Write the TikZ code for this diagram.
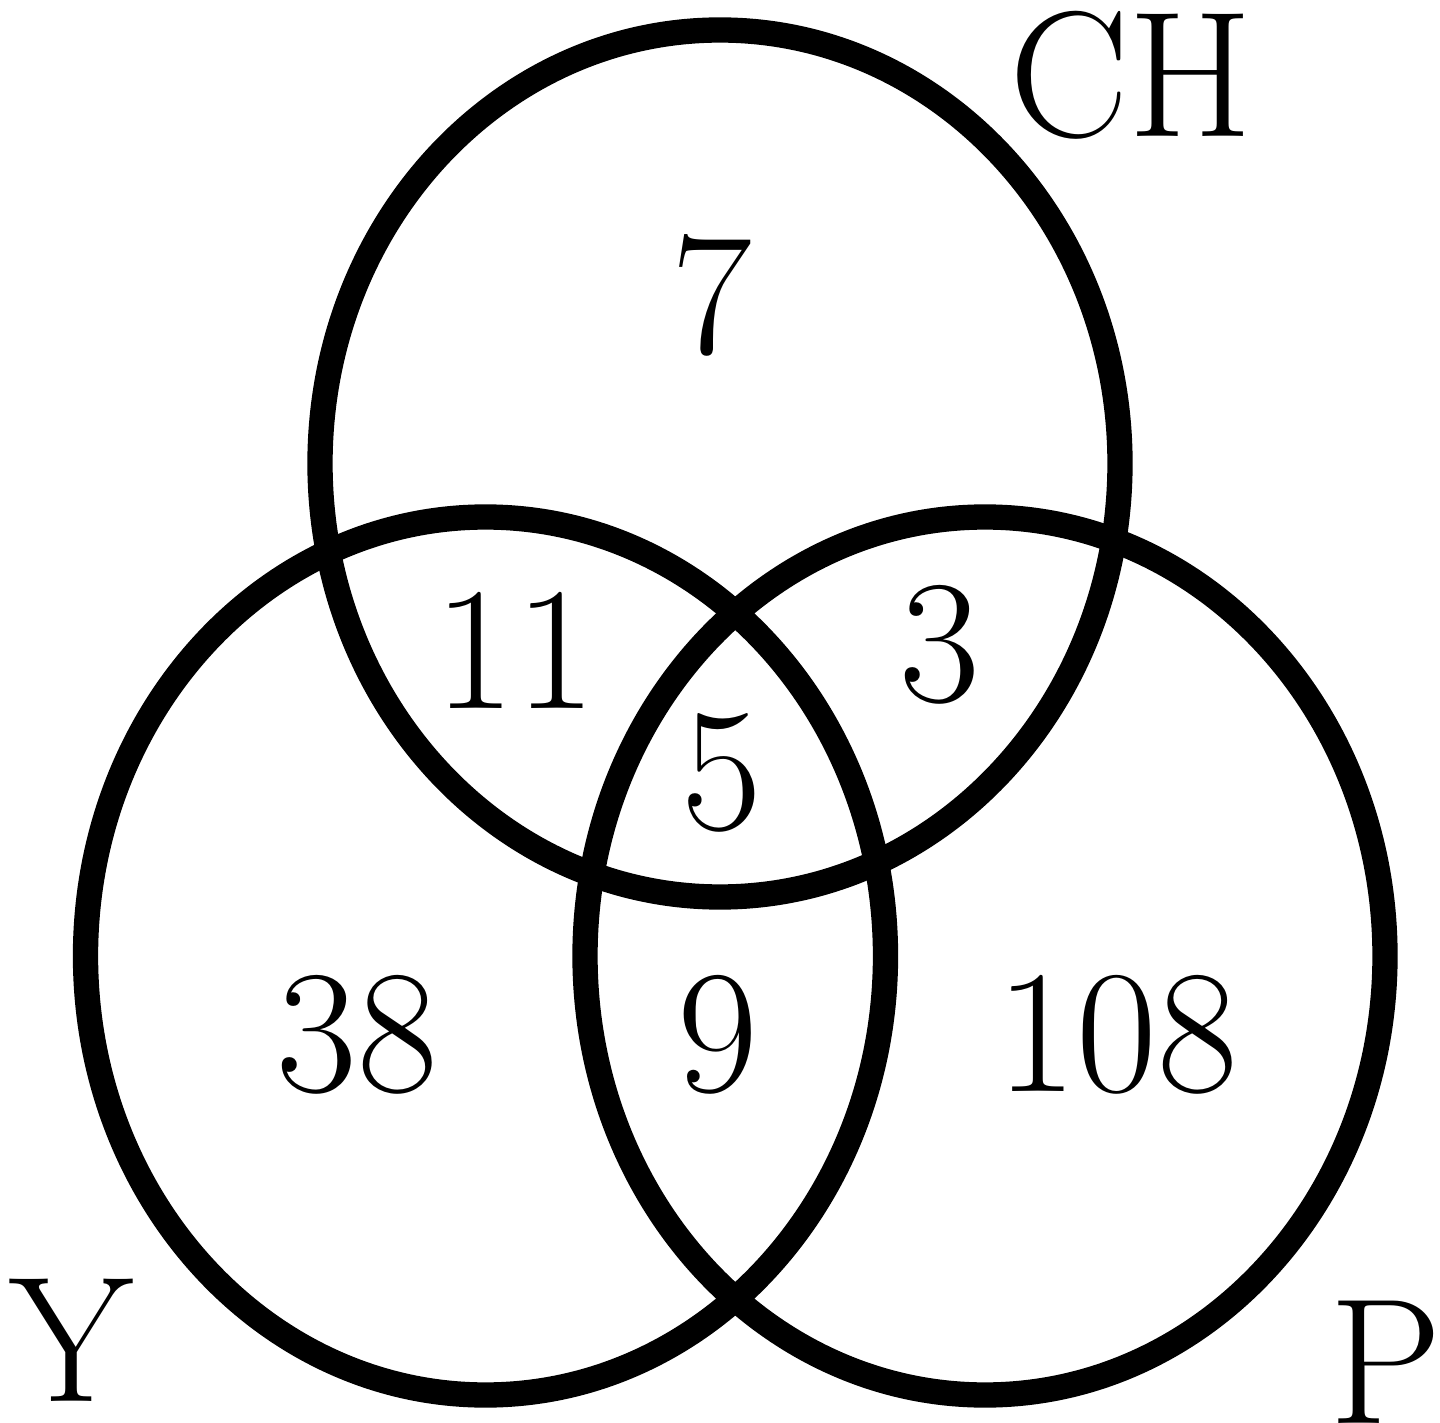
\documentclass[tikz,border=0pt]{standalone}
\usetikzlibrary{positioning}
\tikzset{
  setline/.style ={draw=black,line width=7.2pt},
  num/.style     ={font=\fontsize{50}{50}\selectfont,inner sep=0pt},
  setlbl/.style  ={font=\fontsize{51}{51}\selectfont,inner sep=0pt},
}
\begin{document}
\begin{tikzpicture}
\useasboundingbox (0,0) rectangle (14.40,14.22);
% the three sets
\draw[setline] (7.20,9.585) ellipse [x radius=4.00,y radius=4.335];
\draw[setline] (4.855,4.66) ellipse [x radius=4.00,y radius=4.39];
\draw[setline] (9.85,4.66) ellipse [x radius=4.00,y radius=4.39];
% set names
\node[setlbl] (ch) at (11.31,13.47) {CH};
\node[setlbl] (y) at (0.72,0.82) {Y};
\node[setlbl] (p) at (13.86,0.60) {P};
% counts
\node[num] (only ch) at (7.12,11.27) {7};
\node[num] (ch y) at (5.15,7.72) {11};
\node[num] (ch p) at (9.40,7.77) {3};
\node[num] (all) at (7.22,6.49) {5};
\node[num] (only y) at (3.57,3.87) {38};
\node[num] (y p) at (7.18,3.87) {9};
\node[num] (only p) at (11.17,3.87) {108};
\end{tikzpicture}
\end{document}
